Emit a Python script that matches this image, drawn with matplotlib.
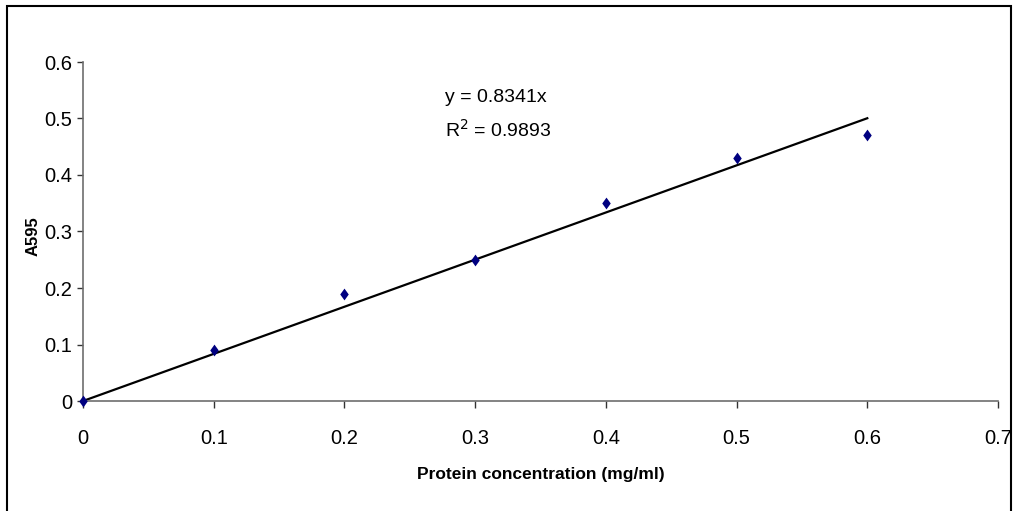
import numpy as np
import matplotlib
matplotlib.use("Agg")
import matplotlib.pyplot as plt
from matplotlib.patches import Rectangle
from matplotlib.path import Path

# Data
concentration = [0.0, 0.1, 0.2, 0.3, 0.4, 0.5, 0.6]
absorbance = [0.0, 0.09, 0.19, 0.25, 0.35, 0.43, 0.47]
x_ticks = [0, 0.1, 0.2, 0.3, 0.4, 0.5, 0.6, 0.7]
x_tick_labels = ["0", "0.1", "0.2", "0.3", "0.4", "0.5", "0.6", "0.7"]
y_ticks = [0, 0.1, 0.2, 0.3, 0.4, 0.5, 0.6]
y_tick_labels = ["0", "0.1", "0.2", "0.3", "0.4", "0.5", "0.6"]
slope_text = "y = 0.8341x"
r2_text = "R$^2$ = 0.9893"
trend_slope = 0.8341

FONT = ["Liberation Sans", "DejaVu Sans"]
plt.rcParams['font.family'] = FONT

W, H = 1016, 511
fig = plt.figure(figsize=(W / 100, H / 100), dpi=100)
ax = fig.add_axes([83 / W, 1 - 401 / H, (998 - 83) / W, (401 - 62) / H])

# Outer chart border
fig.patches.append(Rectangle((7 / W, -0.02), (1011 - 7) / W, 1.02 - 6 / H,
                             transform=fig.transFigure, fill=False,
                             edgecolor="black", linewidth=1.5))

# Trendline
xs = np.array([0.0, max(concentration)])
ax.plot(xs, trend_slope * xs, color="black", linewidth=1.6, zorder=2)

# Points (squat diamond marker)
diamond = Path([(0, 1), (0.72, 0), (0, -1), (-0.72, 0), (0, 1)],
               [Path.MOVETO, Path.LINETO, Path.LINETO, Path.LINETO, Path.CLOSEPOLY])
ax.plot(concentration, absorbance, linestyle="none", marker=diamond,
        markersize=8.5, color="#000080", markeredgewidth=0, zorder=3,
        clip_on=False)

ax.set_xlim(0, 0.7)
ax.set_ylim(0, 0.6)
ax.set_xticks(x_ticks)
ax.set_xticklabels(x_tick_labels)
ax.set_yticks(y_ticks)
ax.set_yticklabels(y_tick_labels)

for s in ["top", "right"]:
    ax.spines[s].set_visible(False)
for s in ["left", "bottom"]:
    ax.spines[s].set_color("#6e6e6e")
    ax.spines[s].set_linewidth(1.2)

ax.tick_params(axis="x", direction="out", length=5, width=1, color="#333333",
               labelsize=14.5, pad=15)
ax.tick_params(axis="y", direction="out", length=4, width=1, color="#333333",
               labelsize=14.5, pad=4)

ax.set_xlabel("Protein concentration (mg/ml)", fontsize=12.5,
              fontweight="bold", labelpad=14)
fig.text(33 / W, 1 - 236 / H, "A595", rotation=90, fontsize=12,
         fontweight="bold", ha="center", va="center")

ax.text(445 / W, 1 - 97 / H, slope_text, transform=fig.transFigure,
        fontsize=14, ha="left", va="center")
ax.text(445 / W, 1 - 130 / H, r2_text, transform=fig.transFigure,
        fontsize=14, ha="left", va="center")

fig.savefig("out.png", dpi=100)
